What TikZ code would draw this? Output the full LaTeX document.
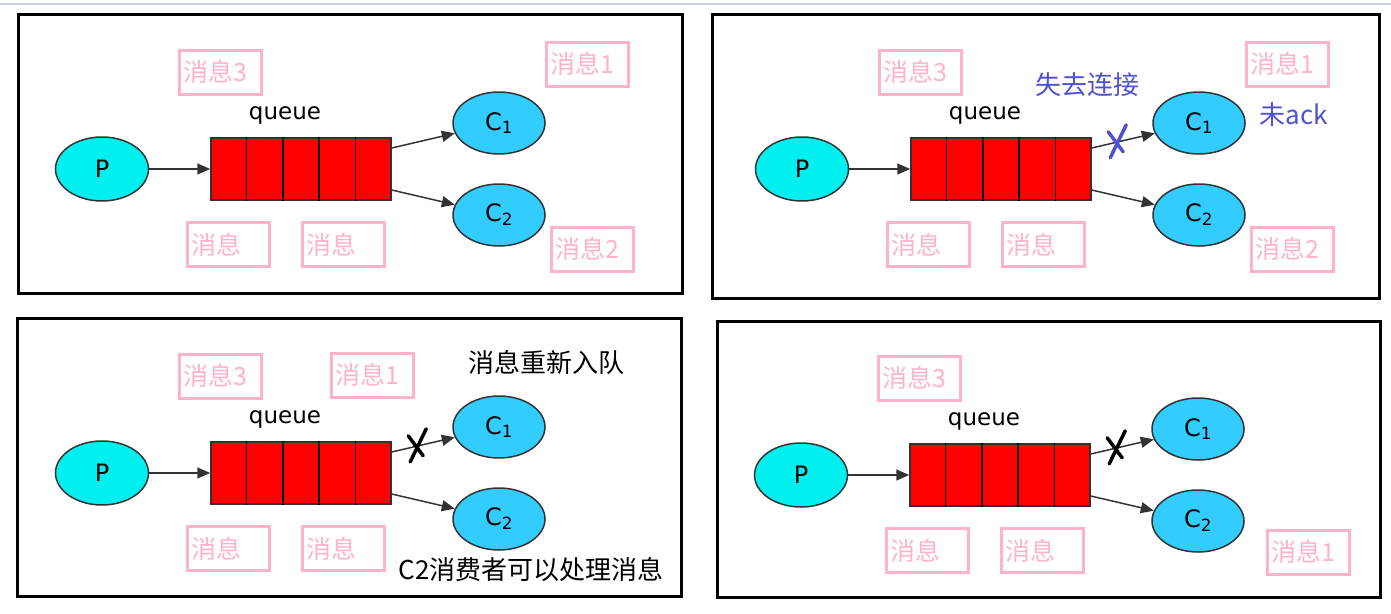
\documentclass[tikz,border=0pt]{standalone}
\usepackage{fontspec}
\setmainfont{DejaVu Sans}
\newfontfamily\cjk{Noto Sans CJK SC}
\usetikzlibrary{shapes.geometric,arrows.meta,calc}
\definecolor{msgpink}{RGB}{255,178,200}
\definecolor{prodcyan}{RGB}{0,240,240}
\definecolor{conblue}{RGB}{51,204,255}
\definecolor{lostblue}{RGB}{80,80,210}
\definecolor{rulegray}{RGB}{200,208,225}
\definecolor{edgegray}{RGB}{51,51,51}
\begin{document}
\begin{tikzpicture}
 	[x=1pt,y=-1pt,
 	panel/.style={draw=black,line width=3pt},
 	prod/.style={ellipse,draw=edgegray,line width=1.5pt,fill=prodcyan,minimum width=93pt,minimum height=64pt,inner sep=0pt,font=\fontsize{24}{26}\selectfont},
 	cons/.style={prod,fill=conblue,minimum width=92pt,minimum height=62pt},
 	queuebox/.style={draw=edgegray,line width=1.5pt,fill=red,minimum width=180pt,minimum height=62pt,inner sep=0pt},
 	msg/.style={draw=msgpink,line width=3pt,text=msgpink,minimum height=44pt,text width=74pt,inner sep=4pt,align=left,font=\cjk\fontsize{25}{27}\selectfont},
 	arr/.style={draw=edgegray,line width=1.5pt,-{Triangle[length=13pt,width=11pt]}},
 	xmark/.style={line width=3.5pt,line cap=round},
 	note/.style={font=\cjk\fontsize{26}{28}\selectfont}]
 	\useasboundingbox (0,0) rectangle (1391,613);
 	\draw[rulegray,line width=1.5pt] (0,4) -- (1391,4);
 	% the same queue in all four panels
 	\foreach \i/\dx/\dy/\fx/\fy/\fX/\fY in {a/0/0/18/14/682/293, b/700/0/712/14/1379/298, c/0/304/17/318/681/596, d/699/306/717/321/1380/597}
 	{
 		\draw[panel] (\fx,\fy) rectangle (\fX,\fY);
 		\begin{scope}[shift={(\dx,\dy)}]
 			\node[prod] (p\i) at (102,169) {P};
 			\node[queuebox] (q\i) at (301,169) {};
 			\foreach \k in {1,...,4}
 				\draw[line width=1.5pt] ($(q\i.north west)!\k/5!(q\i.north east)$) -- ($(q\i.south west)!\k/5!(q\i.south east)$);
 			\node[font=\fontsize{23}{25}\selectfont] (ql\i) at (285,115) {queue};
 			\node[cons] (ca\i) at (499,123) {C\textsubscript{1}};
 			\node[cons] (cb\i) at (499,215) {C\textsubscript{2}};
 			\draw[arr] (p\i) -- (q\i);
 			\draw[arr] ([yshift=21pt]q\i.east) -- coordinate[pos=.42] (cut\i) (ca\i);
 			\draw[arr] ([yshift=-21pt]q\i.east) -- (cb\i);
 			\node[msg] (m3\i) at (220,72) {消息3};
 			\node[msg] (mx\i) at (228,244.5) {消息};
 			\node[msg] (my\i) at (343.5,244.5) {消息};
 		\end{scope}
 	}
 	% top left
 	\node[msg] (m1a) at (587,64) {消息1};
 	\node[msg] (m2a) at (592.5,249) {消息2};
 	% top right
 	\node[msg] (m1b) at (1287,64) {消息1};
 	\node[msg] (m2b) at (1292.5,249) {消息2};
 	\node[note,text=lostblue] (lost) at (1087,85) {失去连接};
 	\node[note,text=lostblue] (noack) at (1294,115) {未ack};
 	\draw[xmark,lostblue] ($(cutb)+(8,-17)$) -- ($(cutb)+(-8,16)$) ($(cutb)+(-10,-10)$) -- ($(cutb)+(5,10)$);
 	% bottom left
 	\node[msg] (m1c) at (372.5,375) {消息1};
 	\node[note] (requeue) at (546,363) {消息重新入队};
 	\node[note] (c2ok) at (531,570) {C2消费者可以处理消息};
 	\draw[xmark] ($(cutc)+(8,-17)$) -- ($(cutc)+(-8,16)$) ($(cutc)+(-10,-10)$) -- ($(cutc)+(5,10)$);
 	% bottom right
 	\node[msg] (m1d) at (1308.5,552) {消息1};
 	\draw[xmark] ($(cutd)+(8,-17)$) -- ($(cutd)+(-8,16)$) ($(cutd)+(-10,-10)$) -- ($(cutd)+(5,10)$);
\end{tikzpicture}
\end{document}
